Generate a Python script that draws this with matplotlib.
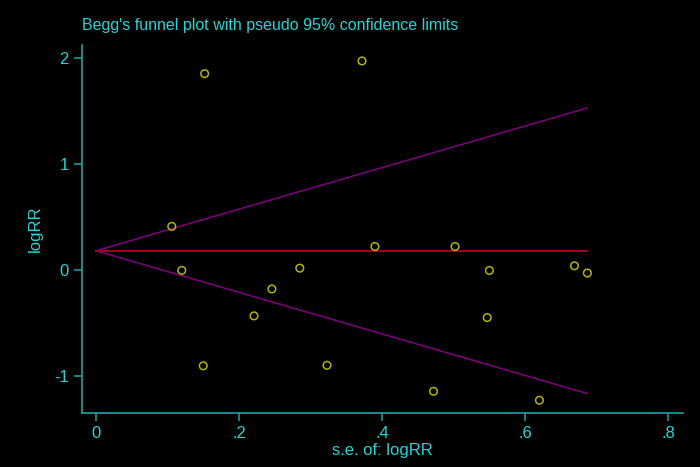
import numpy as np
import matplotlib.pyplot as plt

plt.rcParams['font.family'] = ['Liberation Sans', 'DejaVu Sans']
plt.rcParams['axes.unicode_minus'] = False

# study data: standard error and log relative risk
se = [0.152, 0.372, 0.106, 0.120, 0.285, 0.246, 0.221, 0.150, 0.323,
      0.390, 0.502, 0.550, 0.669, 0.687, 0.547, 0.472, 0.620]
logrr = [1.85, 1.97, 0.41, -0.005, 0.016, -0.18, -0.434, -0.905, -0.90,
         0.22, 0.22, -0.006, 0.038, -0.03, -0.45, -1.145, -1.23]

pooled = 0.18
se_max = 0.687

xticks = [0, 0.2, 0.4, 0.6, 0.8]
xtick_labels = ['0', '.2', '.4', '.6', '.8']
yticks = [-1, 0, 1, 2]

CYAN = '#1ed8d8'
AXIS = '#18a8a8'

fig = plt.figure(figsize=(7, 4.67), dpi=100, facecolor='black')
ax = fig.add_axes([0.117, 0.1156, 0.859, 0.788], facecolor='black')

# funnel lines
xs = np.array([0, se_max])
ax.plot(xs, pooled + 1.96 * xs, color='#800080', lw=1.1)
ax.plot(xs, pooled - 1.96 * xs, color='#800080', lw=1.1)
ax.plot(xs, [pooled, pooled], color='#a0001e', lw=1.4)

ax.scatter(se, logrr, s=30, facecolors='none', edgecolors='#b4b400', linewidths=1.1, zorder=3)

ax.set_xlim(-0.0196, 0.821)
ax.set_ylim(-1.35, 2.12)
ax.set_xticks(xticks)
ax.set_xticklabels(xtick_labels)
ax.set_yticks(yticks)

for side in ['top', 'right']:
    ax.spines[side].set_visible(False)
for side in ['left', 'bottom']:
    ax.spines[side].set_color(AXIS)
    ax.spines[side].set_linewidth(1.2)

ax.tick_params(colors=AXIS, labelcolor=CYAN, labelsize=12, length=6, width=1.1)
ax.set_xlabel('s.e. of: logRR', color=CYAN, fontsize=12, labelpad=1)
ax.set_ylabel('logRR', color=CYAN, fontsize=12, labelpad=8)

fig.text(0.117, 0.929, "Begg's funnel plot with pseudo 95% confidence limits",
         color=CYAN, fontsize=11.5, ha='left', va='bottom')

fig.savefig('out.png', dpi=100, facecolor='black')
